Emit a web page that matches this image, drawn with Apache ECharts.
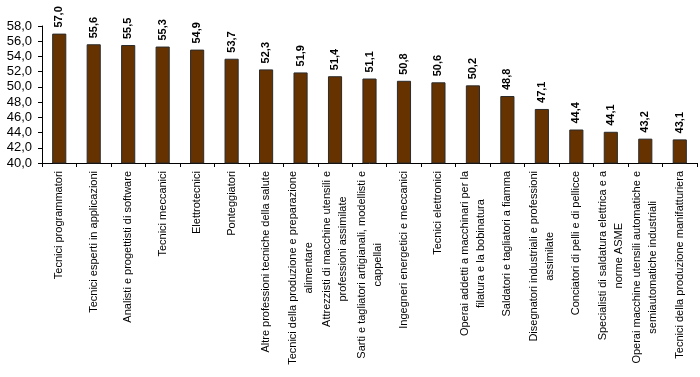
<!DOCTYPE html>
<html>
<head>
<meta charset="utf-8">
<script src="https://cdn.jsdelivr.net/npm/echarts@6/dist/echarts.min.js"></script>
<style>
  html, body { margin: 0; padding: 0; background: #fff; }
  #chart { width: 700px; height: 377px; }
</style>
</head>
<body>
<div id="chart"></div>
<script>
// professioni (a capo come nell'originale)
var categories = [
  'Tecnici programmatori',
  'Tecnici esperti in applicazioni',
  'Analisti e progettisti di software',
  'Tecnici meccanici',
  'Elettrotecnici',
  'Ponteggiatori',
  'Altre professioni tecniche della salute',
  'Tecnici della produzione e preparazione\nalimentare',
  'Attrezzisti di macchine utensili e\nprofessioni assimilate',
  'Sarti e tagliatori artigianali, modellisti e\ncappellai',
  'Ingegneri energetici e meccanici',
  'Tecnici elettronici',
  'Operai addetti a macchinari per la\nfilatura e la bobinatura',
  'Saldatori e tagliatori a fiamma',
  'Disegnatori industriali e professioni\nassimilate',
  'Conciatori di pelli e di pellicce',
  'Specialisti di saldatura elettrica e a\nnorme ASME',
  'Operai macchine utensili automatiche e\nsemiautomatiche industriali',
  'Tecnici della produzione manifatturiera'
]
var values = [57.0, 55.6, 55.5, 55.3, 54.9, 53.7, 52.3, 51.9, 51.4, 51.1, 50.8, 50.6, 50.2, 48.8, 47.1, 44.4, 44.1, 43.2, 43.1]
var yMin = 40
var yMax = 58
var yStep = 2

function fmt(v) {
  return v.toFixed(1).replace('.', ',')
}

var chart = echarts.init(document.getElementById('chart'), null, { renderer: 'canvas' })
chart.setOption({
  animation: false,
  textStyle: { fontFamily: '"Liberation Sans", Arial, sans-serif' },
  grid: { left: 42, right: 3, top: 26, bottom: 214, containLabel: false },
  xAxis: {
    type: 'category',
    data: categories,
    axisLine: { lineStyle: { color: '#000', width: 1 } },
    axisTick: { show: true, length: 4, lineStyle: { color: '#000' } },
    axisLabel: {
      interval: 0,
      rotate: 90,
      margin: 8,
      color: '#000',
      fontSize: 11,
      formatter: function (v) {
        return v.split('\n').map(function (s) { return '{c|' + s + '}' }).join('\n')
      },
      rich: {
        c: { align: 'center', fontSize: 11, lineHeight: 16, color: '#000', fontFamily: '"Liberation Sans", Arial, sans-serif' }
      }
    }
  },
  yAxis: {
    type: 'value',
    min: yMin,
    max: yMax,
    interval: yStep,
    splitLine: { show: false },
    axisLine: { show: true, lineStyle: { color: '#000', width: 1 } },
    axisTick: { show: true, length: 4, lineStyle: { color: '#000' } },
    axisLabel: {
      margin: 10,
      color: '#000',
      fontSize: 13,
      formatter: function (v) { return fmt(v) }
    }
  },
  series: [{
    type: 'bar',
    data: values,
    barWidth: '41%',
    itemStyle: { color: '#663300', borderColor: '#2b2b2b', borderWidth: 1 },
    label: {
      show: true,
      position: 'top',
      rotate: 90,
      align: 'left',
      verticalAlign: 'middle',
      distance: 6,
      color: '#000',
      fontSize: 11,
      fontWeight: 'bold',
      formatter: function (p) { return fmt(p.value) }
    }
  }]
})
</script>
</body>
</html>
